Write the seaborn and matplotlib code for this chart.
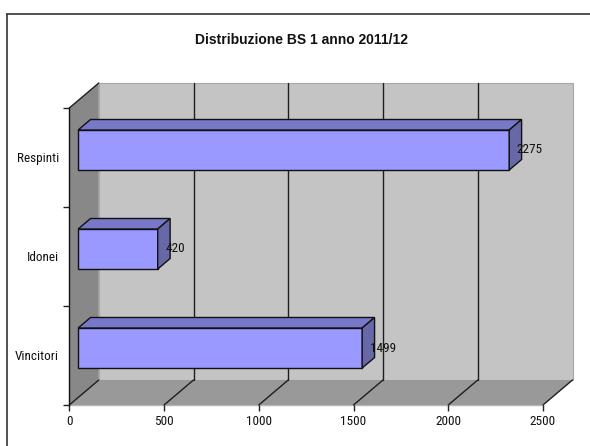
import matplotlib
matplotlib.use("Agg")
import matplotlib.pyplot as plt
from matplotlib import font_manager
from matplotlib.patches import Polygon
from matplotlib.lines import Line2D
import seaborn as sns
import pandas as pd

# Data
categories = ["Respinti", "Idonei", "Vincitori"]
values = [2275, 420, 1499]
x_ticks = [0, 500, 1000, 1500, 2000, 2500]
title = "Distribuzione BS 1 anno 2011/12"

sns.set_theme(style="white")
installed = {f.name for f in font_manager.fontManager.ttflist}
NARROW = next((n for n in ("Liberation Sans Narrow", "Arial Narrow",
                           "Roboto Condensed", "PT Sans Narrow")
               if n in installed), "Liberation Sans")
plt.rcParams["font.family"] = [NARROW, "DejaVu Sans"]
FS = 9.5

W, H = 590, 446
fig = plt.figure(figsize=(W / 100, H / 100), dpi=100)
fig.patch.set_facecolor("white")

# front plane of the 3D box, in pixels
L, R, T, B = 69.3, 543.0, 108.0, 405.0
ax = fig.add_axes([L / W, 1 - B / H, (R - L) / W, (B - T) / H])
ax.set_facecolor("none")

XMAX = x_ticks[-1]
XPX = XMAX / (R - L)            # data units per pixel (x)
YPX = len(categories) / (B - T)  # data units per pixel (y)
DX, DY = 29.5, 25.0              # depth vector in pixels
Y0, Y1 = -0.5, len(categories) - 0.5


def P(x, y, d):
    """Project a point at value x, category y and depth d (0..1)."""
    return (x + d * DX * XPX, y - d * DY * YPX)


def poly(pts, fc, ec="none", lw=0.0, z=0.0):
    ax.add_patch(Polygon(pts, closed=True, facecolor=fc, edgecolor=ec,
                         linewidth=lw, zorder=z, clip_on=False))


def line(p, q, color="#222222", lw=1.0, z=0.5):
    ax.add_line(Line2D([p[0], q[0]], [p[1], q[1]], color=color, lw=lw,
                       zorder=z, clip_on=False))


# walls and floor
poly([P(0, Y0, 1), P(XMAX, Y0, 1), P(XMAX, Y1, 1), P(0, Y1, 1)],
     "#c4c4c4", "#a8a8a8", 0.8, 0.1)
poly([P(0, Y0, 0), P(0, Y0, 1), P(0, Y1, 1), P(0, Y1, 0)],
     "#888888", "none", 0, 0.2)
poly([P(0, Y1, 0), P(XMAX, Y1, 0), P(XMAX, Y1, 1), P(0, Y1, 1)],
     "#999999", "none", 0, 0.2)

# grid lines on the back wall and the floor
for t in x_ticks:
    if 0 < t < XMAX:
        line(P(t, Y0, 1), P(t, Y1, 1), "#1e1e1e", 1.0, 0.5)
    line(P(t, Y1, 0), P(t, Y1, 1), "#1e1e1e", 1.0, 0.5)
line(P(0, Y0, 0), P(0, Y0, 1), "#1e1e1e", 1.0, 0.5)
line(P(0, Y1, 0), P(XMAX, Y1, 0), "#b4b4b4", 1.0, 0.4)

# bars (front faces)
df = pd.DataFrame({"categoria": categories, "valore": values})
D_FRONT, D_BACK = 0.30, 0.72
sns.barplot(data=df, x="valore", y="categoria", orient="h", ax=ax,
            color="#9999ff", saturation=1, width=40 * YPX,
            edgecolor="#111111", linewidth=1.0, zorder=3)

bars = ax.containers[0]
for rect in bars:
    rect.set_x(rect.get_x() + D_FRONT * DX * XPX)
    rect.set_y(rect.get_y() - D_FRONT * DY * YPX)
    x0 = rect.get_x()
    x1 = x0 + rect.get_width()
    yt = rect.get_y()
    yb = yt + rect.get_height()
    dd = D_BACK - D_FRONT

    def Q(x, y, d=dd):
        return (x + d * DX * XPX, y - d * DY * YPX)

    # top face
    poly([(x0, yt), (x1, yt), Q(x1, yt), Q(x0, yt)],
         "#7878c8", "#111111", 1.0, 3)
    # side face
    poly([(x1, yt), Q(x1, yt), Q(x1, yb), (x1, yb)],
         "#6868a8", "#111111", 1.0, 3)

ax.bar_label(bars, labels=[str(v) for v in values], padding=5.5,
             fontsize=FS, color="#111111", zorder=5)

# axes
ax.set_xlim(0, XMAX)
ax.set_ylim(Y1, Y0)
ax.set_xticks(x_ticks)
ax.set_xticklabels([str(t) for t in x_ticks], fontsize=FS, color="#111111")
ax.set_yticks(range(len(categories)))
ax.set_yticklabels(categories, fontsize=FS, color="#111111")
ax.set_yticks([Y0 + i for i in range(len(categories) + 1)], minor=True)
ax.tick_params(axis="y", which="major", length=0, pad=7.5)
ax.tick_params(axis="y", which="minor", length=4, width=1, color="#222222",
               direction="out", left=True)
ax.tick_params(axis="x", length=4, width=1, color="#222222", direction="out",
               bottom=True, pad=3)
ax.set_xlabel("")
ax.set_ylabel("")
for side in ("top", "right", "bottom"):
    ax.spines[side].set_visible(False)
ax.spines["left"].set_color("#111111")
ax.spines["left"].set_linewidth(1.0)
ax.spines["left"].set_zorder(0.6)

# title
fig.text(301 / W, 1 - 40.5 / H, title, ha="center", va="center",
         fontsize=10, fontweight="bold", color="#111111",
         family=["Liberation Sans", "DejaVu Sans"])

# chart area border
fig.add_artist(Line2D([7 / W, 1.0], [1 - 14 / H, 1 - 14 / H],
                      transform=fig.transFigure, color="#333333", lw=1.2))
fig.add_artist(Line2D([7 / W, 7 / W], [0.0, 1 - 14 / H],
                      transform=fig.transFigure, color="#333333", lw=1.2))

fig.savefig("out.png", dpi=100)
